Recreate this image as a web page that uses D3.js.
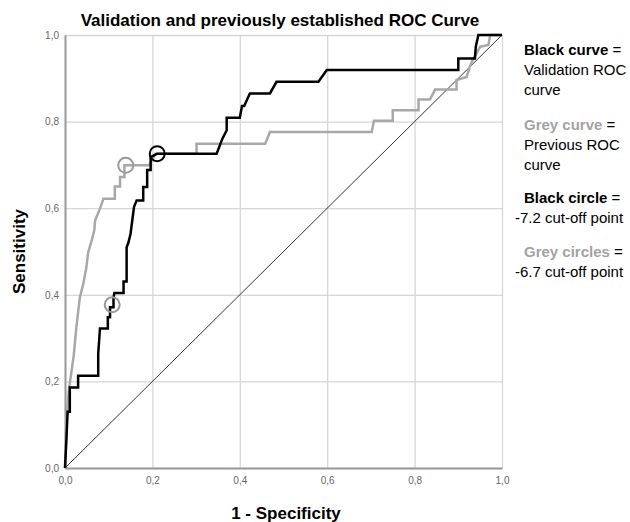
<!DOCTYPE html>
<html>
<head>
<meta charset="utf-8">
<script src="https://cdn.jsdelivr.net/npm/d3@7"></script>
<style>
  body { margin: 0; background: #fff; }
  text { font-family: "Liberation Sans", Arial, sans-serif; }
</style>
</head>
<body>
<div id="chart"></div>
<script>
// tick values on both axes
const ticks = [0, 0.2, 0.4, 0.6, 0.8, 1.0];

// validation ROC curve (black): 1 - specificity, sensitivity
const blackFpr = [0, 0.003, 0.006, 0.011, 0.011, 0.030, 0.030, 0.076, 0.076, 0.080, 0.098, 0.098, 0.103, 0.103, 0.111, 0.111, 0.113, 0.134, 0.134, 0.141, 0.141, 0.145, 0.150, 0.158, 0.164, 0.179, 0.179, 0.188, 0.188, 0.196, 0.196, 0.211, 0.347, 0.360, 0.370, 0.370, 0.400, 0.405, 0.410, 0.423, 0.469, 0.484, 0.580, 0.599, 0.900, 0.900, 0.938, 0.940, 0.946, 1.0];
const blackTpr = [0, 0.06, 0.13, 0.13, 0.186, 0.186, 0.213, 0.213, 0.264, 0.322, 0.322, 0.348, 0.348, 0.371, 0.371, 0.394, 0.404, 0.404, 0.431, 0.431, 0.510, 0.520, 0.541, 0.603, 0.618, 0.618, 0.649, 0.649, 0.688, 0.688, 0.718, 0.726, 0.726, 0.760, 0.780, 0.809, 0.809, 0.836, 0.836, 0.865, 0.865, 0.892, 0.892, 0.919, 0.919, 0.946, 0.946, 0.973, 1.0, 1.0];

// previous ROC curve (grey)
const greyFpr = [0, 0.003, 0.008, 0.011, 0.015, 0.020, 0.026, 0.030, 0.034, 0.042, 0.049, 0.053, 0.061, 0.067, 0.069, 0.080, 0.088, 0.114, 0.114, 0.126, 0.126, 0.136, 0.136, 0.192, 0.200, 0.207, 0.301, 0.301, 0.458, 0.469, 0.702, 0.707, 0.750, 0.750, 0.809, 0.809, 0.835, 0.847, 0.896, 0.896, 0.919, 0.926, 0.931, 0.950, 0.969, 0.973, 1.0];
const greyTpr = [0, 0.10, 0.171, 0.196, 0.224, 0.26, 0.325, 0.36, 0.394, 0.426, 0.464, 0.498, 0.525, 0.549, 0.572, 0.599, 0.622, 0.622, 0.650, 0.650, 0.672, 0.672, 0.699, 0.699, 0.712, 0.726, 0.726, 0.749, 0.749, 0.776, 0.776, 0.802, 0.802, 0.826, 0.826, 0.851, 0.851, 0.874, 0.874, 0.896, 0.903, 0.926, 0.938, 0.973, 0.977, 1.0, 1.0];

// cut-off points
const blackCircleX = [0.211];
const blackCircleY = [0.726];
const greyCircleX = [0.139, 0.108];
const greyCircleY = [0.699, 0.377];

const legendLines = [
  { bold: "Black curve", rest: " =", color: "#000", dy: 50 },
  { bold: "", rest: "Validation ROC", color: "#000", dy: 70 },
  { bold: "", rest: "curve", color: "#000", dy: 90 },
  { bold: "Grey curve", rest: " =", color: "#a3a3a3", dy: 125 },
  { bold: "", rest: "Previous ROC", color: "#000", dy: 145 },
  { bold: "", rest: "curve", color: "#000", dy: 165 },
  { bold: "Black circle", rest: " =", color: "#000", dy: 198 },
  { bold: "", rest: "-7.2 cut-off point", color: "#000", dy: 218, x: 515 },
  { bold: "Grey circles", rest: " =", color: "#a3a3a3", dy: 252 },
  { bold: "", rest: "-6.7 cut-off point", color: "#000", dy: 272, x: 515 }
];

const conf = {
  width: 630,
  height: 522,
  left: 65,
  right: 502,
  top: 35,
  bottom: 468
};

const svg = d3.select("#chart").append("svg")
  .attr("width", conf.width)
  .attr("height", conf.height)
  .attr("viewBox", [0, 0, conf.width, conf.height]);

const x = d3.scaleLinear([0, 1], [conf.left, conf.right]);
const y = d3.scaleLinear([0, 1], [conf.bottom, conf.top]);
const fmt = d => d3.format(".1f")(d).replace(".", ",");

// grid
svg.append("g")
  .attr("transform", `translate(0,${conf.bottom})`)
  .call(d3.axisBottom(x).tickValues(ticks).tickSize(-(conf.bottom - conf.top)).tickFormat(""))
  .call(g => g.select(".domain").remove())
  .call(g => g.selectAll("line").attr("stroke", "#d6d6d6").attr("stroke-width", 1.3));
svg.append("g")
  .attr("transform", `translate(${conf.left},0)`)
  .call(d3.axisLeft(y).tickValues(ticks).tickSize(-(conf.right - conf.left)).tickFormat(""))
  .call(g => g.select(".domain").remove())
  .call(g => g.selectAll("line").attr("stroke", "#d6d6d6").attr("stroke-width", 1.3));

// axes
svg.append("g")
  .attr("transform", `translate(0,${conf.bottom})`)
  .call(d3.axisBottom(x).tickValues(ticks).tickSize(0).tickPadding(9).tickFormat(fmt))
  .call(g => g.select(".domain").attr("stroke", "#999").attr("stroke-width", 2))
  .call(g => g.selectAll("text").attr("fill", "#666").attr("font-size", 10)
    .attr("font-family", "'Liberation Sans', Arial, sans-serif"));
svg.append("g")
  .attr("transform", `translate(${conf.left},0)`)
  .call(d3.axisLeft(y).tickValues(ticks).tickSize(0).tickPadding(6).tickFormat(fmt))
  .call(g => g.select(".domain").attr("stroke", "#999").attr("stroke-width", 2))
  .call(g => g.selectAll("text").attr("fill", "#666").attr("font-size", 10)
    .attr("font-family", "'Liberation Sans', Arial, sans-serif"));

// reference diagonal
svg.append("line")
  .attr("x1", x(0)).attr("y1", y(0))
  .attr("x2", x(1)).attr("y2", y(1))
  .attr("stroke", "#333")
  .attr("stroke-width", 1);

const line = (xs, ys) => d3.line()
  .curve(d3.curveLinear)
  .x(i => x(xs[i]))
  .y(i => y(ys[i]))(d3.range(xs.length));

svg.append("path")
  .attr("d", line(greyFpr, greyTpr))
  .attr("fill", "none")
  .attr("stroke", "#a8a8a8")
  .attr("stroke-width", 2.5);

svg.append("path")
  .attr("d", line(blackFpr, blackTpr))
  .attr("fill", "none")
  .attr("stroke", "#000")
  .attr("stroke-width", 2.5);

// circles
svg.selectAll(".gc").data(d3.range(greyCircleX.length)).join("circle")
  .attr("cx", i => x(greyCircleX[i]))
  .attr("cy", i => y(greyCircleY[i]))
  .attr("r", 7.5)
  .attr("fill", "none")
  .attr("stroke", "#9a9a9a")
  .attr("stroke-width", 2);
svg.selectAll(".bc").data(d3.range(blackCircleX.length)).join("circle")
  .attr("cx", i => x(blackCircleX[i]))
  .attr("cy", i => y(blackCircleY[i]))
  .attr("r", 7.5)
  .attr("fill", "none")
  .attr("stroke", "#000")
  .attr("stroke-width", 2);

// titles
svg.append("text")
  .attr("x", 280).attr("y", 26)
  .attr("text-anchor", "middle")
  .attr("font-size", 17).attr("font-weight", "bold")
  .text("Validation and previously established ROC Curve");
svg.append("text")
  .attr("x", 286).attr("y", 519)
  .attr("text-anchor", "middle")
  .attr("font-size", 17).attr("font-weight", "bold")
  .text("1 - Specificity");
svg.append("text")
  .attr("transform", `translate(25,${(conf.top + conf.bottom) / 2}) rotate(-90)`)
  .attr("text-anchor", "middle")
  .attr("font-size", 17).attr("font-weight", "bold")
  .text("Sensitivity");

// legend text
const leg = svg.append("g");
legendLines.forEach(l => {
  const t = leg.append("text")
    .attr("x", l.x || 524)
    .attr("y", l.dy + 5)
    .attr("font-size", 15);
  if (l.bold) t.append("tspan").attr("font-weight", "bold").attr("fill", l.color).text(l.bold);
  t.append("tspan").attr("fill", "#000").text(l.rest);
});
</script>
</body>
</html>
